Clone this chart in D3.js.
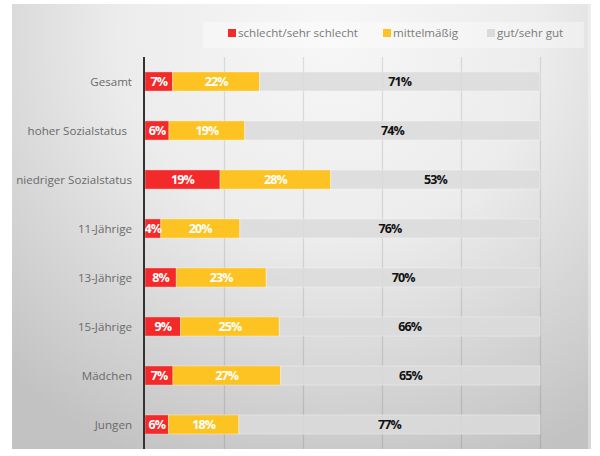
<!DOCTYPE html>
<html>
<head>
<meta charset="utf-8">
<title>Gesundheit</title>
<script src="https://cdn.jsdelivr.net/npm/d3@7"></script>
<style>
  body { margin: 0; background: #fff; }
  text { font-family: "Open Sans", sans-serif; }
  .cat { font-size: 11.6px; fill: #6a6a6a; }
  .val { font-size: 12.5px; font-weight: bold; letter-spacing: -0.9px; }
  .leg { font-size: 11.6px; fill: #7a7a7a; }
</style>
</head>
<body>
<script>
// data
var categories = ["Gesamt", "hoher Sozialstatus", "niedriger Sozialstatus", "11-Jährige",
                  "13-Jährige", "15-Jährige", "Mädchen", "Jungen"];
var schlecht = [7, 6, 19, 4, 8, 9, 7, 6];
var mittel   = [22, 19, 28, 20, 23, 25, 27, 18];
var gut      = [71, 74, 53, 76, 70, 66, 65, 77];
var seriesNames = ["schlecht/sehr schlecht", "mittelmäßig", "gut/sehr gut"];
var seriesKeys = ["schlecht", "mittel", "gut"];
var gridTicks = [0, 0.2, 0.4, 0.6, 0.8, 1];

var colors = { schlecht: "#f42a2a", mittel: "#fcc322", gut: "#dadada" };
var labelColors = { schlecht: "#fff", mittel: "#fff", gut: "#111" };

var rows = categories.map(function(c, i) {
  return { cat: c, schlecht: schlecht[i], mittel: mittel[i], gut: gut[i] };
});

var W = 600, H = 456;
var svg = d3.select("body").append("svg").attr("width", W).attr("height", H);

// background panel
var defs = svg.append("defs");
var grad = defs.append("radialGradient").attr("id", "bg")
  .attr("gradientUnits", "userSpaceOnUse")
  .attr("cx", 330).attr("cy", 30).attr("r", 470);
grad.append("stop").attr("offset", "0%").attr("stop-color", "#f7f7f7");
grad.append("stop").attr("offset", "45%").attr("stop-color", "#ececec");
grad.append("stop").attr("offset", "100%").attr("stop-color", "#c2c2c2");

svg.append("rect").attr("x", 12).attr("y", 4).attr("width", 579).attr("height", 445)
  .attr("fill", "url(#bg)");
svg.append("rect").attr("x", 588).attr("y", 4).attr("width", 3).attr("height", 445)
  .attr("fill", "#fff").attr("opacity", 0.35);

// scales
var x = d3.scaleLinear().domain([0, 1]).range([145, 540]);
var y = d3.scaleBand().domain(categories).range([57, 449]).paddingInner(0.61).paddingOuter(0.305);

// grid
svg.append("g").selectAll("line").data(gridTicks.slice(1)).join("line")
  .attr("x1", function(d) { return Math.round(x(d)) + 0.5; })
  .attr("x2", function(d) { return Math.round(x(d)) + 0.5; })
  .attr("y1", 57).attr("y2", 449)
  .attr("stroke", "#000").attr("stroke-opacity", 0.1).attr("stroke-width", 1.3);

// stacks
var stack = d3.stack().keys(seriesKeys).offset(d3.stackOffsetExpand);
var layers = stack(rows);

var g = svg.append("g").selectAll("g").data(layers).join("g")
  .attr("fill", function(d) { return colors[d.key]; })
  .attr("fill-opacity", function(d) { return d.key == "gut" ? 0.85 : 1; });

g.selectAll("rect").data(function(d) { return d; }).join("rect")
  .attr("x", function(d) { return x(d[0]); })
  .attr("width", function(d) { return x(d[1]) - x(d[0]); })
  .attr("y", function(d) { return y(d.data.cat); })
  .attr("height", y.bandwidth())
  .attr("stroke", "#fff").attr("stroke-opacity", 0.35).attr("stroke-width", 1);

// value labels
layers.forEach(function(layer) {
  svg.append("g").selectAll("text").data(layer).join("text")
    .attr("class", "val")
    .attr("x", function(d) { return (x(d[0]) + x(d[1])) / 2; })
    .attr("y", function(d) { return y(d.data.cat) + y.bandwidth() / 2; })
    .attr("dy", "0.37em")
    .attr("text-anchor", "middle")
    .attr("fill", labelColors[layer.key])
    .text(function(d) { return d.data[layer.key] + "%"; });
});

// axis line
svg.append("line").attr("x1", 144).attr("x2", 144).attr("y1", 57).attr("y2", 449)
  .attr("stroke", "#333").attr("stroke-width", 2);

// category labels
svg.append("g").selectAll("text").data(categories).join("text")
  .attr("class", "cat")
  .attr("x", function(d) { return d == "hoher Sozialstatus" ? 127 : 132; })
  .attr("y", function(d) { return y(d) + y.bandwidth() / 2; })
  .attr("dy", "0.36em")
  .attr("text-anchor", "end")
  .text(function(d) { return d; });

// legend
svg.append("rect").attr("x", 203).attr("y", 22).attr("width", 381).attr("height", 26)
  .attr("fill", "#fff").attr("opacity", 0.35);
var legX = [228, 383, 487];
var leg = svg.append("g").selectAll("g").data(seriesKeys).join("g")
  .attr("transform", function(d, i) { return "translate(" + legX[i] + ",33)"; });
leg.append("rect").attr("x", 0).attr("y", -4).attr("width", 8).attr("height", 8)
  .attr("fill", function(d) { return colors[d]; });
leg.append("text").attr("class", "leg").attr("x", 10).attr("dy", "0.36em")
  .text(function(d, i) { return seriesNames[i]; });
</script>
</body>
</html>
